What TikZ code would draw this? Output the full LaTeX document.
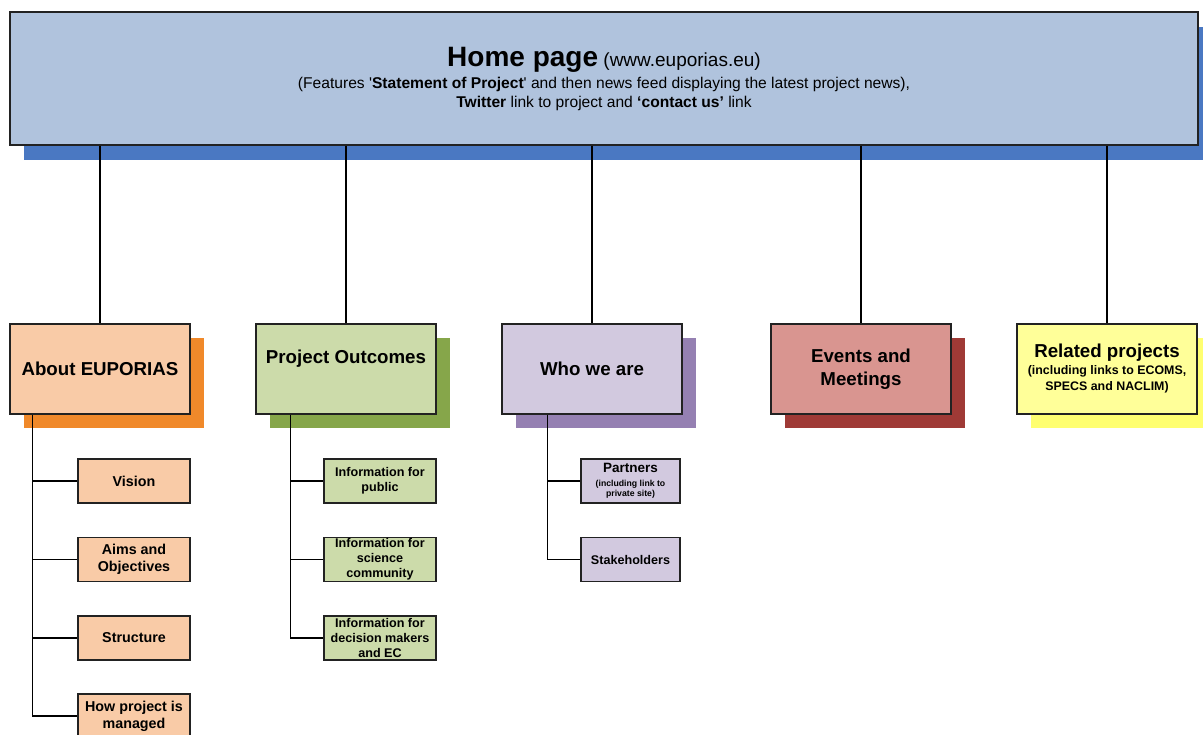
\documentclass[tikz,border=0pt]{standalone}
\usepackage{fontspec}
\setmainfont{Liberation Sans}
\usetikzlibrary{shadows}
\definecolor{homefill}{HTML}{B0C3DD}
\definecolor{homeshadow}{HTML}{4A78C2}
\definecolor{peach}{HTML}{F9CBA7}
\definecolor{peachshadow}{HTML}{F0892A}
\definecolor{sage}{HTML}{CCDBAA}
\definecolor{sageshadow}{HTML}{86A64A}
\definecolor{lilac}{HTML}{D2C9DF}
\definecolor{lilacshadow}{HTML}{9580B2}
\definecolor{rose}{HTML}{D99590}
\definecolor{roseshadow}{HTML}{9F3A36}
\definecolor{lemon}{HTML}{FFFF99}
\definecolor{lemonshadow}{HTML}{FFFF70}
\definecolor{edge}{HTML}{222222}
\newcommand{\hsub}{\fontsize{15.6}{19}\selectfont}
\newcommand{\rsub}{\fontsize{12.4}{16}\selectfont}
\newcommand{\psub}{\fontsize{8.7}{10}\selectfont}
\begin{document}
\begin{tikzpicture}[x=1pt,y=-1pt,
  box/.style={draw=edge,line width=1.5pt,align=center,inner sep=0pt},
  solid shadow/.style={drop shadow={shadow xshift=14pt,shadow yshift=-14pt,opacity=1,fill=#1}},
  mainbox/.style={box,minimum width=180,minimum height=90,
    font=\bfseries\fontsize{18.7}{23}\selectfont},
  childbox/.style={box,minimum width=112,minimum height=44,
    font=\bfseries\fontsize{14.3}{17}\selectfont},
  smallchild/.style={box,minimum width=112,minimum height=44,
    font=\bfseries\fontsize{12.6}{15}\selectfont},
  whochild/.style={box,minimum width=99,minimum height=44,
    font=\bfseries\fontsize{12.6}{15}\selectfont},
  conn/.style={draw=black,line width=1.4pt}
]
\useasboundingbox (0,0) rectangle (1203,735);

% home
\node[box,fill=homefill,minimum width=1188,minimum height=133,font=\hsub,
  drop shadow={shadow xshift=14pt,shadow yshift=-15pt,opacity=1,fill=homeshadow}]
  (home) at (604,78.5)
  {\fontsize{28}{30}\selectfont\textbf{Home page}\fontsize{19}{21}\selectfont\ (www.euporias.eu)\\[3pt]
   \hsub (Features \textquotesingle\textbf{Statement of Project}\textquotesingle{} and then news feed displaying the latest project news),\\
   \hsub\textbf{Twitter} link to project and \textbf{‘contact us’} link};

% second level
\node[mainbox,fill=peach,solid shadow=peachshadow] (about) at (100,369) {About EUPORIAS};
\node[mainbox,fill=sage,solid shadow=sageshadow] (outcomes) at (346,369) {Project Outcomes\\[1pt]\mbox{}};
\node[mainbox,fill=lilac,solid shadow=lilacshadow] (who) at (592,369) {Who we are};
\node[mainbox,fill=rose,solid shadow=roseshadow] (events) at (861,369) {Events and\\Meetings};
\node[mainbox,fill=lemon,solid shadow=lemonshadow] (related) at (1107,369)
  {Related projects\\[-6pt]\rsub(including links to ECOMS,\\[-7pt]\rsub SPECS and NACLIM)};

\foreach \n in {about,outcomes,who,events,related}
  \draw[conn] (home.south -| \n.north) -- (\n.north);

% about children
\node[childbox,fill=peach] (vision) at (134,481) {Vision};
\node[childbox,fill=peach] (aims) at (134,559.5) {Aims and\\Objectives};
\node[childbox,fill=peach] (structure) at (134,638) {Structure};
\node[childbox,fill=peach] (how) at (134,716) {How project is\\managed};
\draw[conn] ([xshift=23]about.south west) |- (how.west);
\foreach \n in {vision,aims,structure}
  \draw[conn] ([xshift=23]about.south west |- \n.west) -- (\n.west);

% outcomes children
\node[smallchild,fill=sage] (public) at (380,481) {Information for\\public};
\node[smallchild,fill=sage] (science) at (380,559.5) {Information for\\science\\community};
\node[smallchild,fill=sage] (decision) at (380,638) {Information for\\decision makers\\and EC};
\draw[conn] ([xshift=35]outcomes.south west) |- (decision.west);
\foreach \n in {public,science}
  \draw[conn] ([xshift=35]outcomes.south west |- \n.west) -- (\n.west);

% who children
\node[whochild,fill=lilac] (partners) at (630.5,481)
  {\fontsize{13.5}{15}\selectfont Partners\\[-1pt]\psub(including link to\\[-5pt]\psub private site)};
\node[whochild,fill=lilac] (stake) at (630.5,559.5) {Stakeholders};
\draw[conn] ([xshift=46]who.south west) |- (stake.west);
\draw[conn] ([xshift=46]who.south west |- partners.west) -- (partners.west);
\end{tikzpicture}
\end{document}
